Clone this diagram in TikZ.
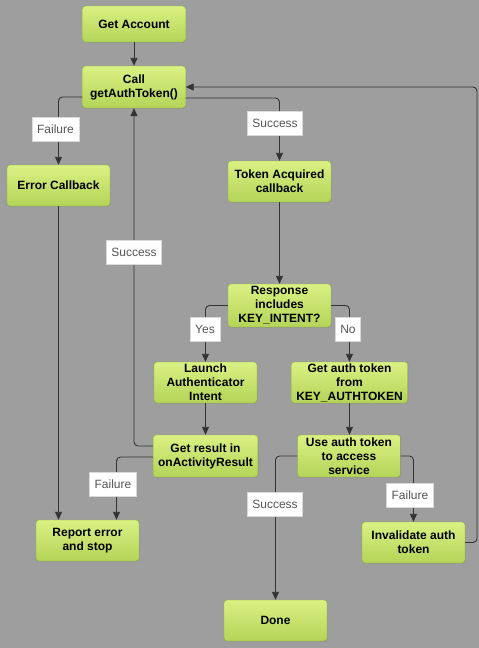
\documentclass[tikz,border=0pt]{standalone}
\usepackage{fontspec}
\setmainfont{Liberation Sans}
\usetikzlibrary{arrows.meta,shadows}
\definecolor{bggray}{HTML}{9E9E9E}
\definecolor{boxtop}{HTML}{DAF183}
\definecolor{boxbot}{HTML}{B4D458}
\definecolor{boxedge}{HTML}{8AAE3C}
\definecolor{lineclr}{HTML}{333333}
\definecolor{labeltext}{HTML}{555555}
\begin{document}
\begin{tikzpicture}[x=1pt,y=-1pt,
	stepbox/.style={rectangle, rounded corners=3pt, draw=boxedge, top color=boxtop, bottom color=boxbot,
		minimum width=103pt, minimum height=41pt, inner xsep=5pt, inner ysep=0pt, align=center,
		font=\bfseries\fontsize{12}{14}\selectfont,
		drop shadow={opacity=0.25, shadow xshift=0.8pt, shadow yshift=-0.8pt}},
	lbl/.style={fill=white, draw=gray!30, text=labeltext, font=\fontsize{12}{14}\selectfont,
		inner xsep=5pt, inner ysep=0pt, minimum height=24pt},
	conn/.style={draw=lineclr, line width=0.9pt, rounded corners=4pt, -{Triangle[length=8pt,width=7pt]}}]
	\fill[bggray] (0,0) rectangle (479,648);
	\useasboundingbox (0,0) rectangle (479,648);
	\node[stepbox, minimum height=36pt] (getacc) at (134,24) {Get Account};
	\node[stepbox, minimum height=42pt] (call) at (134,87) {Call\\getAuthToken()};
	\node[stepbox] (errcb) at (58.5,185.5) {Error Callback};
	\node[stepbox] (token) at (279.5,181.5) {Token Acquired\\callback};
	\node[stepbox, minimum height=43pt] (resp) at (279.5,305.5) {Response\\includes\\KEY\_INTENT?};
	\node[stepbox] (launch) at (205.5,382.5) {Launch\\Authenticator\\Intent};
	\node[stepbox] (getauth) at (349.5,382.5) {Get auth token\\from\\KEY\_AUTHTOKEN};
	\node[stepbox, minimum height=42pt] (getres) at (205.5,456) {Get result in\\onActivityResult};
	\node[stepbox, minimum height=42pt] (useauth) at (349,456) {Use auth token\\to access\\service};
	\node[stepbox] (report) at (87.5,540.5) {Report error\\and stop};
	\node[stepbox] (inval) at (413.5,542.5) {Invalidate auth\\token};
	\node[stepbox] (done) at (275.5,620.5) {Done};
	\coordinate (loopc) at (477,87);
	\draw[conn] (getacc) -- (call);
	\draw[conn] (call.west |- 0,97) -| (errcb.north);
	\draw[conn] (call.east |- 0,98) -| (token.north);
	\draw[conn] (token) -- (resp);
	\draw[conn] (resp.west) -| (launch.north);
	\draw[conn] (resp.east) -| (getauth.north);
	\draw[conn] (launch) -- (getres);
	\draw[conn] (getauth) -- (getauth |- useauth.north);
	\draw[conn] (getres.west |- 0,446) -| (call.south);
	\draw[conn] (getres.west |- 0,457) -| ([xshift=29pt]report.north);
	\draw[conn] (errcb.south) -- (errcb.south |- report.north);
	\draw[conn] (useauth.west) -| (done.north);
	\draw[conn] (useauth.east) -| (inval.north);
	\draw[conn] (inval.east) -| (loopc) -- (call.east);
	\node[lbl] (failone) at (55.5,129.5) {Failure};
	\node[lbl] (succone) at (275,123) {Success};
	\node[lbl] (succtwo) at (134,252) {Success};
	\node[lbl] (yes) at (205,329) {Yes};
	\node[lbl] (no) at (348,329) {No};
	\node[lbl] (failtwo) at (113,484) {Failure};
	\node[lbl] (succthree) at (275,504) {Success};
	\node[lbl] (failthree) at (410,495) {Failure};
\end{tikzpicture}
\end{document}
